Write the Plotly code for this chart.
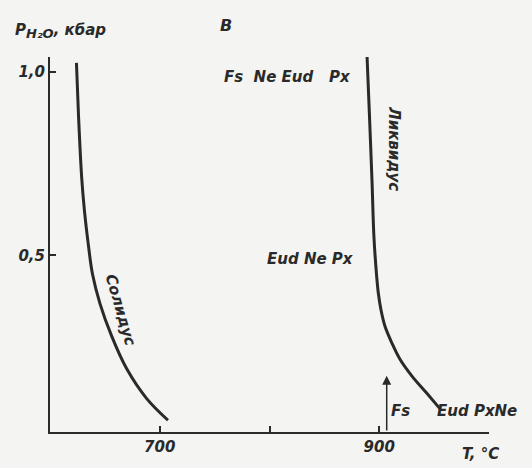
import plotly.graph_objects as go

# Solidus curve (T, °C ; P, kbar)
solidus_T = [624.1, 626.0, 628.9, 631.4, 634.9, 638.7, 645.6, 656.2, 669.9, 688.1, 707.5]
solidus_P = [1.024, 0.879, 0.710, 0.621, 0.530, 0.449, 0.368, 0.280, 0.191, 0.110, 0.051]

# Liquidus curve
liquidus_T = [888.9, 891.1, 893.4, 895.2, 897.7, 899.2, 901.6, 905.3, 911.4, 918.9,
              929.6, 942.6, 955.4]
liquidus_P = [1.040, 0.879, 0.702, 0.548, 0.441, 0.396, 0.351, 0.306, 0.262, 0.217,
              0.172, 0.127, 0.082]

x_tickvals = [700, 800, 900]
x_ticktext = ["700", "", "900"]
y_tickvals = [0.5, 1.0]
y_ticktext = ["0,5", "1,0"]

INK = "#2a2a2a"
FONT = dict(family="DejaVu Sans", size=15, color=INK, style="italic", weight="bold")

fig = go.Figure()
fig.add_trace(go.Scatter(x=solidus_T, y=solidus_P, mode="lines",
                         line=dict(color=INK, width=3, shape="spline", smoothing=1.0),
                         hoverinfo="skip"))
fig.add_trace(go.Scatter(x=liquidus_T, y=liquidus_P, mode="lines",
                         line=dict(color=INK, width=3, shape="spline", smoothing=1.0),
                         hoverinfo="skip"))

ann = []
# arrow Fs
ann.append(dict(x=906.8, y=0.172, ax=906.8, ay=0.019, xref="x", yref="y", axref="x", ayref="y",
                showarrow=True, arrowhead=2, arrowsize=1.2, arrowwidth=1.5, arrowcolor=INK, text=""))
def t(text, x, y, xref="x", yref="y", angle=0, xanchor="center", size=15):
    f = dict(FONT); f["size"] = size
    ann.append(dict(text=text, x=x, y=y, xref=xref, yref=yref, showarrow=False,
                    textangle=angle, xanchor=xanchor, yanchor="middle", font=f))

t("Fs  Ne Eud   Px", 757, 0.985, xanchor="left")
t("Eud Ne Px", 796, 0.49, xanchor="left")
t("Fs", 919, 0.075)
t("Eud PxNe", 951, 0.075, xanchor="left")
t("Ликвидус", 914, 0.79, angle=90)
t("Солидус", 664, 0.35, angle=74)
t("P<sub><span style='font-size:13px'>H₂O</span></sub>, кбар", -0.085, 1.07,
  xref="paper", yref="paper", xanchor="left")
t("В", 0.401, 1.084, xref="paper", yref="paper", size=16)
t("T, °C", 992, -0.058, yref="paper")

fig.update_layout(
    width=532, height=468,
    margin=dict(l=50, r=43, t=57, b=31),
    paper_bgcolor="#f4f4f2", plot_bgcolor="#f4f4f2",
    showlegend=False,
    annotations=ann,
    xaxis=dict(range=[600, 1000], showgrid=False, zeroline=False, showline=True,
               linecolor=INK, linewidth=2, ticks="inside", ticklen=6, tickwidth=1.5,
               tickcolor=INK, tickvals=x_tickvals, ticktext=x_ticktext, tickfont=FONT),
    yaxis=dict(range=[0.019, 1.04], showgrid=False, zeroline=False, showline=True,
               linecolor=INK, linewidth=2, ticks="inside", ticklen=6, tickwidth=1.5,
               tickcolor=INK, tickvals=y_tickvals, ticktext=y_ticktext, tickfont=FONT),
)
fig.write_html("out.html")
